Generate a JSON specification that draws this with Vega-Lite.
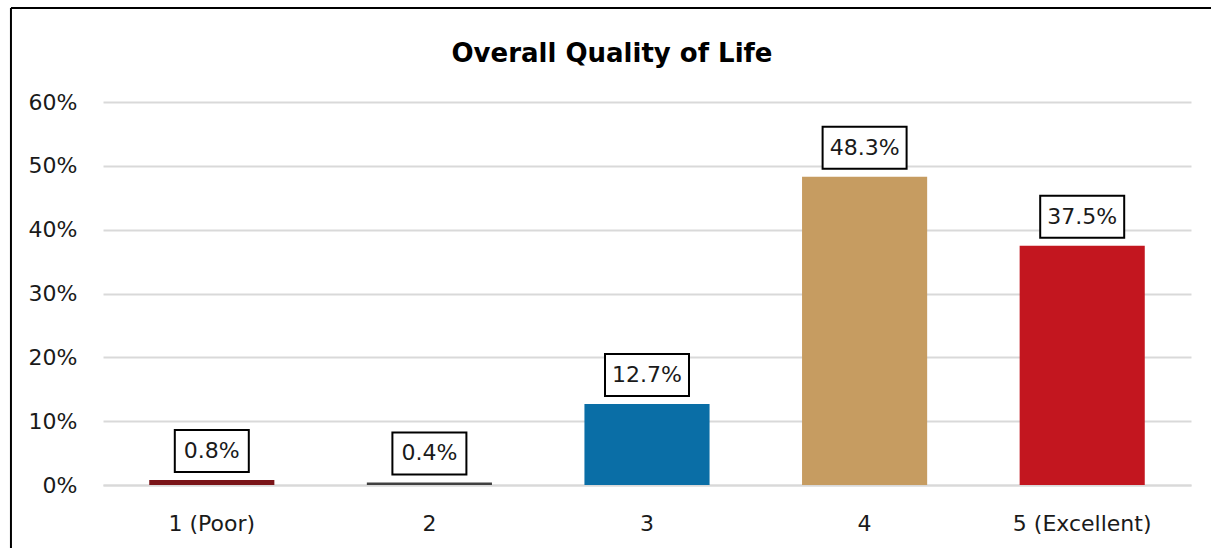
{
  "$schema": "https://vega.github.io/schema/vega-lite/v6.json",
  "autosize": {"type": "none"},
  "padding": {"left": 103, "top": 102, "right": 20, "bottom": 63},
  "width": 1088,
  "height": 383,
  "background": "white",
  "config": {"view": {"stroke": null}, "font": "DejaVu Sans"},
  "title": {
    "text": "Overall Quality of Life",
    "font": "DejaVu Sans",
    "fontSize": 26,
    "fontWeight": "bold",
    "color": "#000000",
    "anchor": "middle",
    "frame": "group",
    "dx": -35,
    "baseline": "alphabetic",
    "offset": -81
  },
  "data": {
    "values": [
      {"rating": "1 (Poor)", "pct": 0.008},
      {"rating": "2", "pct": 0.004},
      {"rating": "3", "pct": 0.127},
      {"rating": "4", "pct": 0.483},
      {"rating": "5 (Excellent)", "pct": 0.375}
    ]
  },
  "resolve": {"scale": {"x": "independent"}, "axis": {"x": "independent"}},
  "layer": [
    {
      "mark": {"type": "bar"},
      "encoding": {
        "x": {
          "field": "rating", "type": "nominal", "sort": null,
          "scale": {"domain": ["1 (Poor)", "2", "3", "4", "5 (Excellent)"], "paddingInner": 0.425, "paddingOuter": 0.2125},
          "axis": {
            "title": null, "labelAngle": 0, "ticks": false, "tickSize": 0,
            "labelFont": "DejaVu Sans", "labelFontSize": 22, "labelColor": "#1a1a1a",
            "labelBaseline": "alphabetic", "labelPadding": 45,
            "domainColor": "#d9d9d9", "domainWidth": 2, "grid": false
          }
        },
        "y": {
          "field": "pct", "type": "quantitative",
          "scale": {"domain": [0, 0.6], "nice": false, "zero": true},
          "axis": {
            "title": null, "format": ".0%", "values": [0, 0.1, 0.2, 0.3, 0.4, 0.5, 0.6],
            "domain": false, "ticks": false, "tickSize": 0,
            "labelFont": "DejaVu Sans", "labelFontSize": 22, "labelColor": "#1a1a1a",
            "labelPadding": 26,
            "grid": true, "gridColor": "#d9d9d9", "gridWidth": 2
          }
        },
        "color": {
          "field": "rating", "type": "nominal", "legend": null,
          "scale": {
            "domain": ["1 (Poor)", "2", "3", "4", "5 (Excellent)"],
            "range": ["#7a1418", "#404040", "#0a6ea6", "#c69c61", "#c3161f"]
          }
        }
      }
    },
    {
      "transform": [{"filter": "datum.pct < 0.1"}],
      "mark": {
        "type": "point", "filled": true, "fill": "white", "fillOpacity": 1,
        "stroke": "black", "strokeWidth": 2, "opacity": 1,
        "shape": "M-1,-0.5676L1,-0.5676L1,0.5676L-1,0.5676Z",
        "size": 5476, "yOffset": -29
      },
      "encoding": {
        "x": {"field": "rating", "type": "nominal", "sort": null, "scale": {"domain": ["1 (Poor)", "2", "3", "4", "5 (Excellent)"], "paddingInner": 0.425, "paddingOuter": 0.2125}, "axis": null},
        "y": {"field": "pct", "type": "quantitative"}
      }
    },
    {
      "transform": [{"filter": "datum.pct >= 0.1"}],
      "mark": {
        "type": "point", "filled": true, "fill": "white", "fillOpacity": 1,
        "stroke": "black", "strokeWidth": 2, "opacity": 1,
        "shape": "M-1,-0.5L1,-0.5L1,0.5L-1,0.5Z",
        "size": 7056, "yOffset": -29
      },
      "encoding": {
        "x": {"field": "rating", "type": "nominal", "sort": null, "scale": {"domain": ["1 (Poor)", "2", "3", "4", "5 (Excellent)"], "paddingInner": 0.425, "paddingOuter": 0.2125}, "axis": null},
        "y": {"field": "pct", "type": "quantitative"}
      }
    },
    {
      "mark": {
        "type": "text", "font": "DejaVu Sans", "fontSize": 22, "color": "#1a1a1a",
        "baseline": "middle", "align": "center", "yOffset": -29
      },
      "encoding": {
        "x": {"field": "rating", "type": "nominal", "sort": null, "scale": {"domain": ["1 (Poor)", "2", "3", "4", "5 (Excellent)"], "paddingInner": 0.425, "paddingOuter": 0.2125}, "axis": null},
        "y": {"field": "pct", "type": "quantitative"},
        "text": {"field": "pct", "type": "quantitative", "format": ".1%"}
      }
    },
    {
      "data": {"values": [{}]},
      "mark": {"type": "rule", "color": "black", "strokeWidth": 2},
      "encoding": {
        "x": {"datum": -0.0846, "type": "quantitative", "scale": {"domain": [0, 1], "nice": false, "zero": false}, "axis": null},
        "x2": {"datum": 1.03},
        "y": {"datum": 0.7473, "type": "quantitative"}
      }
    },
    {
      "data": {"values": [{}]},
      "mark": {"type": "rule", "color": "black", "strokeWidth": 2},
      "encoding": {
        "x": {"datum": -0.0846, "type": "quantitative", "scale": {"domain": [0, 1], "nice": false, "zero": false}, "axis": null},
        "y": {"datum": 0.7473, "type": "quantitative"},
        "y2": {"datum": -0.11}
      }
    }
  ]
}
